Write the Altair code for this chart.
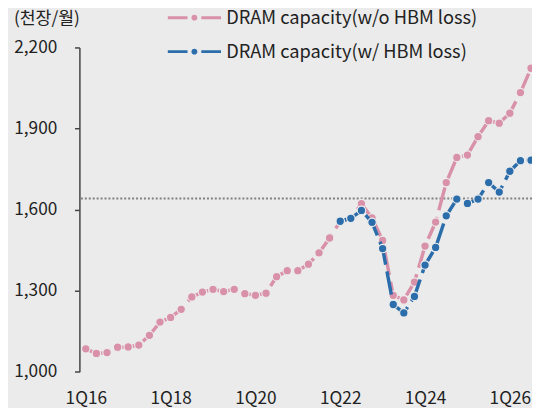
import altair as alt
import pandas as pd

quarters = list(range(43))  # 0 = 1Q16 ... 42 = 3Q26
wo_hbm = [1085, 1068, 1071, 1091, 1092, 1099, 1135, 1184, 1201, 1231,
          1277, 1295, 1305, 1297, 1305, 1289, 1283, 1291, 1352, 1374,
          1374, 1398, 1440, 1495, 1557, 1568, 1622, 1569, 1486, 1283,
          1266, 1332, 1465, 1554, 1700, 1793, 1802, 1870, 1929, 1920,
          1957, 2033, 2123]
w_hbm_start = 24
w_hbm = [1557, 1568, 1597, 1553, 1456, 1249, 1218, 1279, 1395, 1460,
         1577, 1639, 1623, 1639, 1700, 1665, 1742, 1781, 1783]
ref_level = 1641

s1 = "DRAM capacity(w/o HBM loss)"
s2 = "DRAM capacity(w/ HBM loss)"
tick_vals = [0, 8, 16, 24, 32, 40]
y_ticks = [1000, 1300, 1600, 1900, 2200]

rows = [{"q": q, "v": v, "s": s1} for q, v in zip(quarters, wo_hbm)]
rows += [{"q": w_hbm_start + i, "v": v, "s": s2} for i, v in enumerate(w_hbm)]
df = pd.DataFrame(rows)

PINK = "#d991a9"
BLUE = "#2b6dab"
BG = "#ebebeb"
FONT = "Noto Sans CJK KR"
FS = 17.5
LFS = 18.5
TXT = "#222222"
COLORS = {s1: PINK, s2: BLUE}

xs = alt.Scale(domain=[-0.604, 42.09], nice=False, zero=False)
ys = alt.Scale(domain=[1000, 2200], nice=False, zero=False)
cs = alt.Scale(domain=[s1, s2], range=[PINK, BLUE])

x_enc = alt.X("q:Q", scale=xs, axis=alt.Axis(
    values=tick_vals, labelExpr="'1Q' + (16 + datum.value / 4)",
    ticks=False, domain=False, grid=False, labelPadding=18,
    labelFontSize=FS, labelFont=FONT, labelColor=TXT, title=None))
y_enc = alt.Y("v:Q", scale=ys, axis=alt.Axis(
    values=y_ticks, labelExpr="format(datum.value, ',.0f')", grid=False,
    domain=True, domainColor="#444444",
    domainWidth=1.5, ticks=True, tickSize=5, tickColor="#444444", tickWidth=1.5,
    labelPadding=18, labelFontSize=FS, labelFont=FONT, labelColor=TXT,
    title="(천장/월)", titleAngle=0, titleAlign="left", titleBaseline="middle",
    titleX=-67, titleY=-29.5, titleFontSize=FS, titleFont=FONT,
    titleFontWeight="normal", titleColor=TXT))

sym = ("M-5.4,-0.3H-1.4V0.3H-5.4Z M1.4,-0.3H5.4V0.3H1.4Z "
       "M0.6,0A0.6,0.6 0 1,1 -0.6,0A0.6,0.6 0 1,1 0.6,0Z")
legend = alt.Legend(title=None, orient="none", legendX=107.5, legendY=-39.5,
                    symbolType=sym, symbolSize=100, symbolStrokeWidth=0,
                    labelFont=FONT, labelFontSize=LFS, labelColor=TXT,
                    labelOffset=23, labelLimit=0, rowPadding=15.5, padding=0)

base = alt.Chart(df)

def line_layer(name):
    return base.transform_filter(alt.datum.s == name).mark_line(
        color=COLORS[name], strokeWidth=3.5, strokeDash=[24, 7], clip=True
    ).encode(x=x_enc, y=y_enc)

def point_layer(name):
    return base.transform_filter(alt.datum.s == name).mark_circle(
        size=74, opacity=1, stroke=BG, strokeWidth=1.2, clip=True
    ).encode(x=x_enc, y=y_enc, fill=alt.Fill("s:N", scale=cs, legend=legend))

rule = alt.Chart(pd.DataFrame({"y": [ref_level]})).mark_rule(
    color="#808080", strokeWidth=2, strokeDash=[2, 2]
).encode(y=alt.Y("y:Q", scale=ys))

chart = alt.layer(
    rule, line_layer(s1), point_layer(s1), line_layer(s2), point_layer(s2)
).properties(
    width=459.5, height=329.3,
    autosize=alt.AutoSizeParams(type="none"),
    padding={"left": 72.5, "top": 37, "right": 0, "bottom": 34},
    background=BG,
).configure_view(stroke=None)

chart.save("out.html", embed_options={"renderer": "svg", "actions": False})
